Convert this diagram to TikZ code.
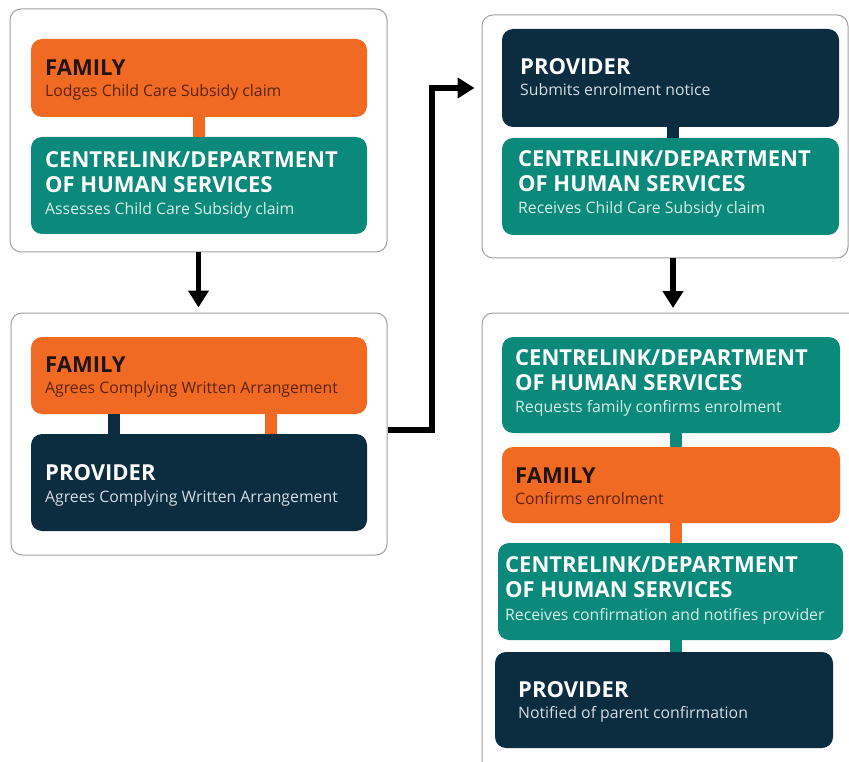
\documentclass[tikz,border=0pt]{standalone}
\usepackage{fontspec}
\setmainfont{Open Sans}
\usetikzlibrary{arrows.meta,fit}
\definecolor{famc}{HTML}{F06A24}
\definecolor{tealc}{HTML}{0B8A7B}
\definecolor{navyc}{HTML}{0C2C40}
\definecolor{famtxt}{HTML}{21140C}
\definecolor{famsub}{HTML}{5E240C}
\definecolor{tealsub}{HTML}{D6EEEA}
\definecolor{navysub}{HTML}{D3DDE4}
\definecolor{panelc}{HTML}{A0A0A0}
\tikzset{
  panel/.style={draw=panelc, line width=1pt, rounded corners=11pt, fill=white, inner sep=0pt},
  box/.style={rounded corners=11pt, inner sep=0pt},
  ttl/.style={anchor=base west, inner sep=0pt, font=\fontsize{22}{26}\selectfont\bfseries},
  sub/.style={anchor=base west, inner sep=0pt, font=\fontsize{15.8}{18}\selectfont},
  flow/.style={line width=5.5pt, -{Triangle[length=17pt,width=20pt]}},
  bar/.style={line width=12pt}
}
\begin{document}
\begin{tikzpicture}[x=1pt,y=-1pt]
\useasboundingbox (0,0) rectangle (849,762);
% panels
\node[panel, fit={(10,9) (387,252)}] (P1) {};
\node[panel, fit={(11,313) (387,555)}] (P2) {};
\node[panel, fit={(482,15) (848,258)}] (P3) {};
\node[panel, fit={(482,313) (880,790)}] (P4) {};
% boxes
\node[box, fill=famc, fit={(31,39) (367,117)}] (f1) {};
\node[box, fill=tealc, fit={(31,137) (367,234)}] (c1) {};
\node[box, fill=famc, fit={(31,337) (367,414)}] (f2) {};
\node[box, fill=navyc, fit={(31,434) (367,531)}] (p2) {};
\node[box, fill=navyc, fit={(502,29) (839,127)}] (p3) {};
\node[box, fill=tealc, fit={(502,138) (839,235)}] (c3) {};
\node[box, fill=tealc, fit={(502,337) (840,433)}] (c4) {};
\node[box, fill=famc, fit={(502,447) (840,523)}] (f4) {};
\node[box, fill=tealc, fit={(498,543) (843,640)}] (c5) {};
\node[box, fill=navyc, fit={(495,652) (833,748)}] (p5) {};
% connecting bars
\draw[bar, famc] ([xshift=0pt]f1.south) -- ([xshift=0pt]c1.north);
\draw[bar, navyc] ([xshift=-85pt]f2.south) -- ([xshift=-85pt]p2.north);
\draw[bar, famc] ([xshift=72pt]f2.south) -- ([xshift=72pt]p2.north);
\draw[bar, navyc] ([xshift=2pt]p3.south) -- ([xshift=2pt]c3.north);
\draw[bar, tealc] ([xshift=5pt]c4.south) -- ([xshift=5pt]f4.north);
\draw[bar, famc] ([xshift=5pt]f4.south) -- ([xshift=5.5pt]c5.north);
\draw[bar, tealc] ([xshift=5.5pt]c5.south) -- ([xshift=12pt]p5.north);
% texts
\node[ttl, famtxt] (f1a) at (45,76) {FAMILY};
\node[sub, famsub] (f1b) at (45,97) {Lodges Child Care Subsidy claim};
\node[ttl, white] (c1a) at (45,168) {CENTRELINK/DEPARTMENT};
\node[ttl, white] (c1b) at (45,193) {OF HUMAN SERVICES};
\node[sub, tealsub] (c1c) at (45,215) {Assesses Child Care Subsidy claim};
\node[ttl, famtxt] (f2a) at (45,372) {FAMILY};
\node[sub, famsub] (f2b) at (45,393) {Agrees Complying Written Arrangement};
\node[ttl, white] (p2a) at (45,480) {PROVIDER};
\node[sub, navysub] (p2b) at (45,502) {Agrees Complying Written Arrangement};
\node[ttl, white] (p3a) at (520,75) {PROVIDER};
\node[sub, navysub] (p3b) at (520,96) {Submits enrolment notice};
\node[ttl, white] (c3a) at (518,167) {CENTRELINK/DEPARTMENT};
\node[ttl, white] (c3b) at (518,192) {OF HUMAN SERVICES};
\node[sub, tealsub] (c3c) at (518,214) {Receives Child Care Subsidy claim};
\node[ttl, white] (c4a) at (515,365) {CENTRELINK/DEPARTMENT};
\node[ttl, white] (c4b) at (515,390) {OF HUMAN SERVICES};
\node[sub, tealsub] (c4c) at (515,412) {Requests family confirms enrolment};
\node[ttl, famtxt] (f4a) at (515,483) {FAMILY};
\node[sub, famsub] (f4b) at (515,504) {Confirms enrolment};
\node[ttl, white] (c5a) at (505,572) {CENTRELINK/DEPARTMENT};
\node[ttl, white] (c5b) at (505,597) {OF HUMAN SERVICES};
\node[sub, tealsub] (c5c) at (505,620) {Receives confirmation and notifies provider};
\node[ttl, white] (p5a) at (518,697) {PROVIDER};
\node[sub, navysub] (p5b) at (518,718) {Notified of parent confirmation};
% flow arrows
\draw[flow, shorten >=5pt] (P1.south) -- (P1.south |- P2.north);
\coordinate (k1) at (432,430);
\coordinate (k2) at (432,88);
\draw[flow, line join=miter, shorten >=7pt] (P2.east |- k1) -- (k1) -- (k2) -- (P3.west |- k2);
\draw[flow, shorten >=5pt] (P3.south -| 673,0) -- (673,313);
\end{tikzpicture}
\end{document}
